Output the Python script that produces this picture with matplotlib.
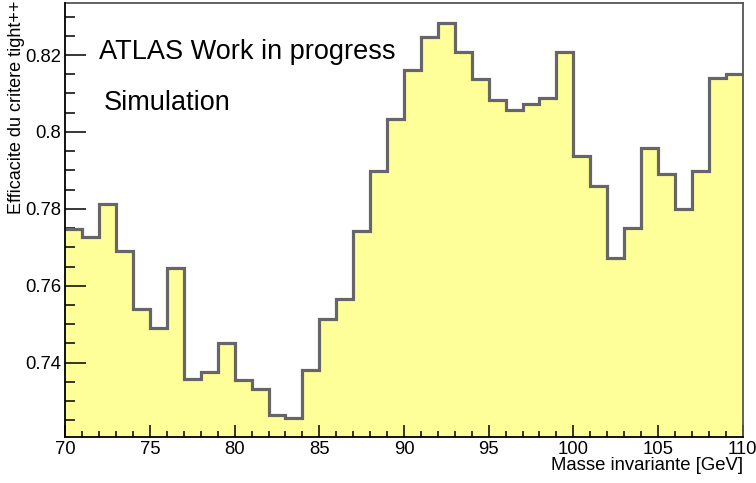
import numpy as np
import matplotlib
matplotlib.use('Agg')
import matplotlib.pyplot as plt
from matplotlib.ticker import MultipleLocator

# efficiency of the tight++ criterion per 1 GeV bin of invariant mass
bin_edges = np.arange(70, 111, 1)
efficiency = [0.7747, 0.7728, 0.7812, 0.7690, 0.7540, 0.7489, 0.7647, 0.7357,
              0.7377, 0.7450, 0.7355, 0.7331, 0.7265, 0.7255, 0.7381, 0.7513,
              0.7565, 0.7742, 0.7898, 0.8034, 0.8162, 0.8246, 0.8282, 0.8208,
              0.8138, 0.8083, 0.8057, 0.8072, 0.8087, 0.8208, 0.7938, 0.7859,
              0.7671, 0.7751, 0.7959, 0.7890, 0.7800, 0.7898, 0.8139, 0.8151]

plt.rcParams['font.family'] = ['Liberation Sans', 'DejaVu Sans']

W, H = 756, 483
fig = plt.figure(figsize=(W / 100, H / 100), dpi=100)
ax = fig.add_axes([0.0864, 0.0946, 0.896, 0.899])

ymin, ymax = 0.7206, 0.8335
ax.stairs(efficiency, bin_edges, baseline=ymin, fill=True, color='#ffff99', zorder=1)
ax.stairs(efficiency, bin_edges, baseline=None, color='#666666', linewidth=2.3, zorder=2)

ax.set_xlim(70, 110)
ax.set_ylim(ymin, ymax)

ax.xaxis.set_major_locator(MultipleLocator(5))
ax.xaxis.set_minor_locator(MultipleLocator(1))
ax.yaxis.set_minor_locator(MultipleLocator(0.005))
ax.set_yticks([0.74, 0.76, 0.78, 0.80, 0.82])
ax.set_yticklabels(['0.74', '0.76', '0.78', '0.8', '0.82'])

ax.tick_params(axis='x', which='major', direction='in', length=9, width=1.1, pad=3, labelsize=13.3)
ax.tick_params(axis='x', which='minor', direction='in', length=4.5, width=1.1)
ax.tick_params(axis='y', which='major', direction='in', length=15, width=1.1, pad=3, labelsize=13.3)
ax.tick_params(axis='y', which='minor', direction='in', length=7.5, width=1.1)
for t in ax.get_xticklines() + ax.get_yticklines() + ax.xaxis.get_minorticklines() + ax.yaxis.get_minorticklines():
    t.set_zorder(5)

for side in ['left', 'bottom']:
    ax.spines[side].set_color('black')
    ax.spines[side].set_linewidth(1.3)
    ax.spines[side].set_zorder(5)
for side in ['top', 'right']:
    ax.spines[side].set_color('#555555')
    ax.spines[side].set_linewidth(1.3)

fig.text(99 / W, 1 - 52 / H, 'ATLAS Work in progress', fontsize=19.5,
         ha='left', va='center')
fig.text(104 / W, 1 - 103 / H, 'Simulation', fontsize=19.5, ha='left', va='center')

fig.text(742.7 / W, 1 - 466 / H, 'Masse invariante [GeV]', fontsize=13.3,
         ha='right', va='center')
fig.text(17 / W, 0.999, 'Efficacite du critere tight++', fontsize=13,
         rotation=90, ha='center', va='top')

fig.savefig('out.png', dpi=100)
